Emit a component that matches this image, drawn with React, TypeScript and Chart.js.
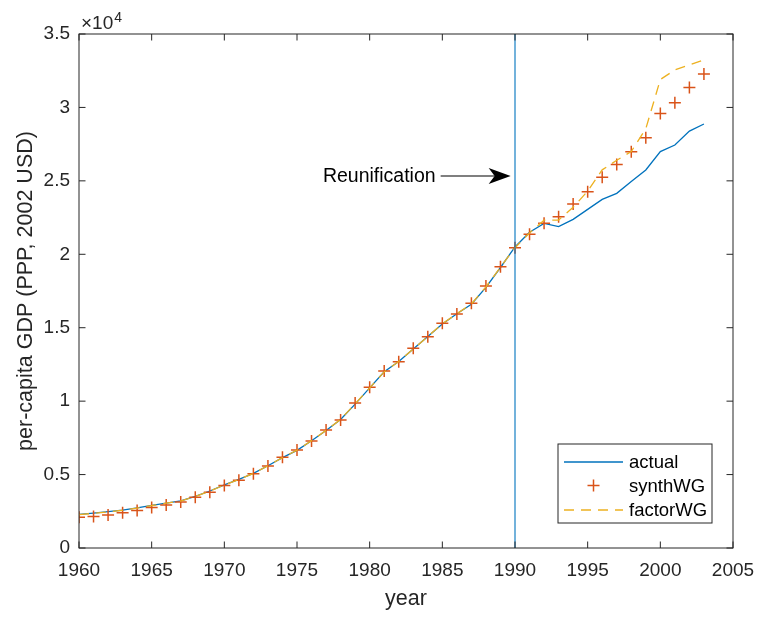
import React, { useEffect, useRef } from 'react';
import { Chart, registerables } from 'chart.js';

Chart.register(...registerables);

const FONT = '"Liberation Sans", Arial, Helvetica, sans-serif';

const years = [
  1960, 1961, 1962, 1963, 1964, 1965, 1966, 1967, 1968, 1969,
  1970, 1971, 1972, 1973, 1974, 1975, 1976, 1977, 1978, 1979,
  1980, 1981, 1982, 1983, 1984, 1985, 1986, 1987, 1988, 1989,
  1990, 1991, 1992, 1993, 1994, 1995, 1996, 1997, 1998, 1999,
  2000, 2001, 2002, 2003,
];

const actual = [
  2290, 2370, 2470, 2580, 2730, 2900, 3060, 3210, 3520, 3880,
  4300, 4680, 5080, 5600, 6150, 6650, 7300, 8000, 8750, 9800,
  10900, 12000, 12700, 13550, 14400, 15250, 15950, 16600, 17750, 19100,
  20500, 21500, 22100, 21880, 22380, 23060, 23740, 24150, 24950, 25740,
  26990, 27440, 28390, 28870,
];

const synthWG = [
  2090, 2140, 2250, 2400, 2550, 2750, 2930, 3130, 3450, 3800,
  4250, 4620, 5050, 5580, 6180, 6680, 7290, 8030, 8720, 9870,
  10950, 12050, 12690, 13600, 14390, 15300, 15930, 16660, 17840, 19150,
  20450, 21360, 22110, 22560, 23420, 24260, 25240, 26120, 26990, 27940,
  29590, 30320, 31350, 32280,
];

const factorWG = [
  2270, 2360, 2460, 2570, 2720, 2890, 3050, 3200, 3510, 3870,
  4290, 4670, 5080, 5600, 6150, 6660, 7310, 8010, 8760, 9820,
  10900, 11990, 12700, 13560, 14400, 15270, 15950, 16620, 17780, 19120,
  20450, 21450, 22330, 22330, 23200, 24300, 25750, 26400, 27000, 28550,
  31900, 32550, 32890, 33230,
];

const xTickValues = [1960, 1965, 1970, 1975, 1980, 1985, 1990, 1995, 2000, 2005];
const yTickValues = [0, 5000, 10000, 15000, 20000, 25000, 30000, 35000];
const yTickLabels = ['0', '0.5', '1', '1.5', '2', '2.5', '3', '3.5'];
const exponentBase = '\u00d710';
const exponentPower = '4';

const eventYear = 1990;
const annotationText = 'Reunification';
const arrowTipYear = 1989.7;
const arrowTipValue = 25330;

const legendLabels = ['actual', 'synthWG', 'factorWG'];

const C_ACTUAL = '#0072BD';
const C_SYNTH = '#D95319';
const C_FACTOR = '#EDB120';
const C_XLINE = 'rgba(0,114,189,0.55)';
const C_AXIS = '#262626';

const matlabPlugin = {
  id: 'matlabDecor',
  afterDraw(chart: any) {
    const { ctx, chartArea: a, scales } = chart;
    const xs = scales.x;
    const ys = scales.y;
    ctx.save();

    // axes box
    ctx.strokeStyle = C_AXIS;
    ctx.lineWidth = 1;
    ctx.setLineDash([]);
    ctx.strokeRect(a.left, a.top, a.right - a.left, a.bottom - a.top);

    // inward ticks on all four sides
    const tl = 6.5;
    ctx.beginPath();
    xTickValues.forEach((v) => {
      const px = xs.getPixelForValue(v);
      ctx.moveTo(px, a.bottom);
      ctx.lineTo(px, a.bottom - tl);
      ctx.moveTo(px, a.top);
      ctx.lineTo(px, a.top + tl);
    });
    yTickValues.forEach((v) => {
      const py = ys.getPixelForValue(v);
      ctx.moveTo(a.left, py);
      ctx.lineTo(a.left + tl, py);
      ctx.moveTo(a.right, py);
      ctx.lineTo(a.right - tl, py);
    });
    ctx.stroke();

    // exponent label
    ctx.fillStyle = C_AXIS;
    ctx.textAlign = 'left';
    ctx.textBaseline = 'alphabetic';
    ctx.font = `19px ${FONT}`;
    const ex = a.left + 2;
    ctx.fillText(exponentBase, ex, a.top - 5);
    const w = ctx.measureText(exponentBase).width;
    ctx.font = `14px ${FONT}`;
    ctx.fillText(exponentPower, ex + w + 1, a.top - 12);

    // annotation arrow
    const tipX = xs.getPixelForValue(arrowTipYear);
    const tipY = ys.getPixelForValue(arrowTipValue);
    ctx.strokeStyle = '#000';
    ctx.fillStyle = '#000';
    ctx.lineWidth = 1.2;
    ctx.beginPath();
    ctx.moveTo(tipX - 70, tipY);
    ctx.lineTo(tipX - 16, tipY);
    ctx.stroke();
    ctx.beginPath();
    ctx.moveTo(tipX, tipY);
    ctx.lineTo(tipX - 22, tipY - 8);
    ctx.lineTo(tipX - 16, tipY);
    ctx.lineTo(tipX - 22, tipY + 8);
    ctx.closePath();
    ctx.fill();

    ctx.font = `19.5px ${FONT}`;
    ctx.textAlign = 'right';
    ctx.textBaseline = 'middle';
    ctx.fillText(annotationText, tipX - 75, tipY + 1);

    // legend box
    const lx = a.right - 175;
    const ly = a.bottom - 104;
    const lw = 154;
    const lh = 79;
    ctx.fillStyle = '#fff';
    ctx.fillRect(lx, ly, lw, lh);
    ctx.strokeStyle = C_AXIS;
    ctx.lineWidth = 1;
    ctx.strokeRect(lx, ly, lw, lh);

    const rows = [ly + 18, ly + 41.5, ly + 66];
    // actual
    ctx.strokeStyle = C_ACTUAL;
    ctx.lineWidth = 1.3;
    ctx.beginPath();
    ctx.moveTo(lx + 6, rows[0]);
    ctx.lineTo(lx + 65, rows[0]);
    ctx.stroke();
    // synth
    ctx.strokeStyle = C_SYNTH;
    ctx.lineWidth = 1.5;
    ctx.beginPath();
    ctx.moveTo(lx + 35.5 - 6, rows[1]);
    ctx.lineTo(lx + 35.5 + 6, rows[1]);
    ctx.moveTo(lx + 35.5, rows[1] - 6);
    ctx.lineTo(lx + 35.5, rows[1] + 6);
    ctx.stroke();
    // factor
    ctx.strokeStyle = C_FACTOR;
    ctx.lineWidth = 1.3;
    ctx.setLineDash([10, 7]);
    ctx.beginPath();
    ctx.moveTo(lx + 6, rows[2]);
    ctx.lineTo(lx + 65, rows[2]);
    ctx.stroke();
    ctx.setLineDash([]);

    ctx.fillStyle = '#000';
    ctx.font = `18.5px ${FONT}`;
    ctx.textAlign = 'left';
    ctx.textBaseline = 'middle';
    legendLabels.forEach((t, i) => ctx.fillText(t, lx + 71, rows[i] + 1));

    ctx.restore();
  },
};

export default function App() {
  const ref = useRef<HTMLCanvasElement | null>(null);

  useEffect(() => {
    if (!ref.current) return;
    const pts = (vals: number[]) => years.map((yr, i) => ({ x: yr, y: vals[i] }));
    const chart = new Chart(ref.current, {
      type: 'line',
      data: {
        datasets: [
          {
            label: 'event',
            data: [
              { x: eventYear, y: yTickValues[0] },
              { x: eventYear, y: yTickValues[yTickValues.length - 1] },
            ],
            borderColor: C_XLINE,
            borderWidth: 2,
            pointRadius: 0,
            order: 0,
          },
          {
            label: legendLabels[2],
            data: pts(factorWG),
            borderColor: C_FACTOR,
            borderWidth: 1.3,
            borderDash: [10, 7],
            pointRadius: 0,
            order: 1,
          },
          {
            label: legendLabels[1],
            data: pts(synthWG),
            showLine: false,
            pointStyle: 'cross',
            pointRadius: 6,
            pointBorderWidth: 1.5,
            pointBorderColor: C_SYNTH,
            pointBackgroundColor: C_SYNTH,
            borderColor: C_SYNTH,
            order: 2,
          },
          {
            label: legendLabels[0],
            data: pts(actual),
            borderColor: C_ACTUAL,
            borderWidth: 1.3,
            pointRadius: 0,
            order: 3,
          },
        ],
      },
      options: {
        responsive: false,
        devicePixelRatio: 1,
        animation: false,
        events: [],
        layout: { padding: { left: 0, top: 34, right: 25, bottom: 0 } },
        elements: { line: { tension: 0 } },
        plugins: {
          legend: { display: false },
          tooltip: { enabled: false },
        },
        scales: {
          x: {
            type: 'linear',
            min: xTickValues[0],
            max: xTickValues[xTickValues.length - 1],
            grid: { display: false, drawTicks: false },
            border: { display: false },
            afterBuildTicks: (s: any) => {
              s.ticks = xTickValues.map((v) => ({ value: v }));
            },
            afterFit: (s: any) => {
              s.height = 69;
              s.paddingLeft = 0;
              s.paddingRight = 0;
            },
            ticks: {
              autoSkip: false,
              maxRotation: 0,
              padding: 11,
              color: C_AXIS,
              font: { family: FONT, size: 19 },
              callback: (v: any) => String(v),
            },
            title: {
              display: true,
              text: 'year',
              color: C_AXIS,
              font: { family: FONT, size: 21.5 },
              padding: { top: 0, bottom: 5 },
            },
          },
          y: {
            type: 'linear',
            min: yTickValues[0],
            max: yTickValues[yTickValues.length - 1],
            grid: { display: false, drawTicks: false },
            border: { display: false },
            afterBuildTicks: (s: any) => {
              s.ticks = yTickValues.map((v) => ({ value: v }));
            },
            afterFit: (s: any) => {
              s.width = 79;
              s.paddingTop = 0;
              s.paddingBottom = 0;
            },
            ticks: {
              autoSkip: false,
              padding: 9,
              color: C_AXIS,
              font: { family: FONT, size: 19 },
              callback: (_v: any, i: number) => yTickLabels[i],
            },
            title: {
              display: true,
              text: 'per-capita GDP (PPP, 2002 USD)',
              color: C_AXIS,
              font: { family: FONT, size: 21.5 },
              padding: { top: 13, bottom: 0 },
            },
          },
        },
      } as any,
      plugins: [matlabPlugin],
    });
    return () => chart.destroy();
  }, []);

  return (
    <div
      style={{
        position: 'fixed',
        left: 0,
        top: 0,
        width: 758,
        height: 617,
        background: '#fff',
      }}
    >
      <canvas ref={ref} width={758} height={617} style={{ display: 'block' }} />
    </div>
  );
}
